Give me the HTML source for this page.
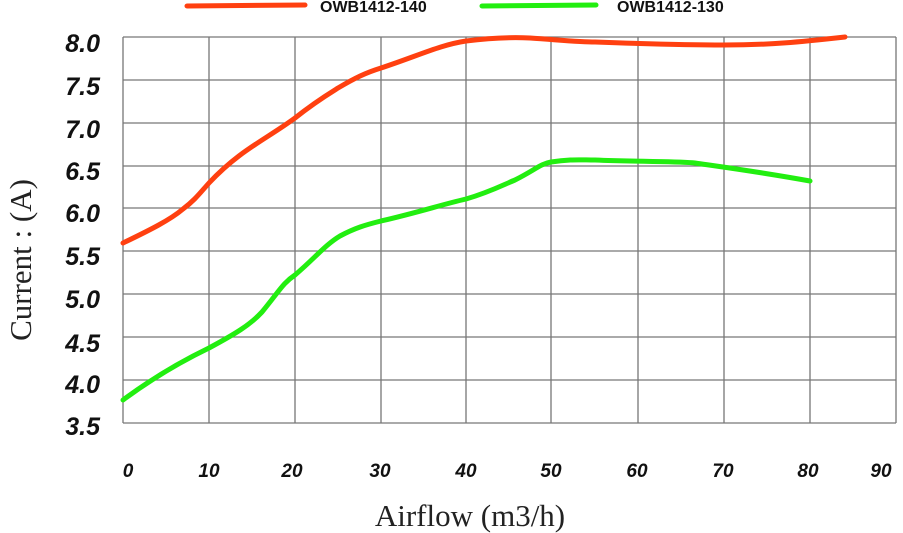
<!DOCTYPE html>
<html><head><meta charset="utf-8"><style>
html,body{margin:0;padding:0;background:#fff;}
svg{display:block}
.y{font-family:"Liberation Sans",sans-serif;font-style:italic;font-weight:bold;font-size:25px;fill:#111;text-anchor:end}
.x{font-family:"Liberation Sans",sans-serif;font-style:italic;font-weight:bold;font-size:19px;fill:#111;text-anchor:middle}
.t{font-family:"Liberation Serif",serif;font-size:31px;fill:#222}
.l{font-family:"Liberation Sans",sans-serif;font-weight:bold;font-size:16px;fill:#111}
</style></head><body>
<svg width="903" height="533" viewBox="0 0 903 533">
<g stroke="#777" stroke-width="1.3">
<line x1="123" y1="37" x2="896" y2="37"/><line x1="123" y1="80" x2="896" y2="80"/>
<line x1="123" y1="123" x2="896" y2="123"/><line x1="123" y1="166" x2="896" y2="166"/>
<line x1="123" y1="208" x2="896" y2="208"/><line x1="123" y1="251" x2="896" y2="251"/>
<line x1="123" y1="294" x2="896" y2="294"/><line x1="123" y1="337" x2="896" y2="337"/>
<line x1="123" y1="380" x2="896" y2="380"/><line x1="123" y1="423" x2="896" y2="423"/>
<line x1="123" y1="37" x2="123" y2="423"/><line x1="209" y1="37" x2="209" y2="423"/>
<line x1="295" y1="37" x2="295" y2="423"/><line x1="381" y1="37" x2="381" y2="423"/>
<line x1="466" y1="37" x2="466" y2="423"/><line x1="551" y1="37" x2="551" y2="423"/>
<line x1="638" y1="37" x2="638" y2="423"/><line x1="724" y1="37" x2="724" y2="423"/>
<line x1="810" y1="37" x2="810" y2="423"/><line x1="896" y1="37" x2="896" y2="423"/>
</g>
<path d="M123,243 C150,230 170,220 183,209 C195,200 200,193 209,183 C240,150 265,140 295,118 C315,102 330,93 338,88 C355,78 365,73 381,68 C420,55 440,45 466,41 C490,38 510,37 530,38 C560,40 580,42 595,42 C650,44 700,45 724,45 C770,45 800,42 845,37" fill="none" stroke="#ff4010" stroke-width="5" stroke-linecap="round"/>
<path d="M123,400 C150,380 180,362 209,348 C235,334 250,325 262,312 C280,290 283,283 295,275 C315,258 325,245 340,236 C355,228 365,225 381,221 C420,212 440,205 466,199 C490,192 505,184 515,180 C535,170 540,164 551,162 C570,159 580,160 595,160 C640,162 680,161 695,163 C730,168 760,172 810,181" fill="none" stroke="#22ee10" stroke-width="5" stroke-linecap="round"/>
<g class="y">
<text x="100" y="52">8.0</text><text x="100" y="95">7.5</text><text x="100" y="138">7.0</text>
<text x="100" y="180">6.5</text><text x="100" y="222">6.0</text><text x="100" y="265">5.5</text>
<text x="100" y="308">5.0</text><text x="100" y="352">4.5</text><text x="100" y="393">4.0</text>
<text x="100" y="435">3.5</text></g>
<g class="x">
<text x="128" y="477">0</text><text x="209" y="477">10</text><text x="292" y="477">20</text>
<text x="380" y="477">30</text><text x="466" y="477">40</text><text x="551" y="477">50</text>
<text x="637" y="477">60</text><text x="723" y="477">70</text><text x="808" y="477">80</text>
<text x="881" y="477">90</text></g>
<text class="t" x="470" y="526" text-anchor="middle">Airflow (m3/h)</text>
<text class="t" transform="translate(31,260) rotate(-90)" text-anchor="middle">Current : (A)</text>
<line x1="187" y1="6" x2="305" y2="5" stroke="#ff4010" stroke-width="5" stroke-linecap="round"/>
<text class="l" x="320" y="12">OWB1412-140</text>
<line x1="482" y1="6" x2="596" y2="5" stroke="#22ee10" stroke-width="5" stroke-linecap="round"/>
<text class="l" x="617" y="12">OWB1412-130</text>
</svg>
</body></html>
